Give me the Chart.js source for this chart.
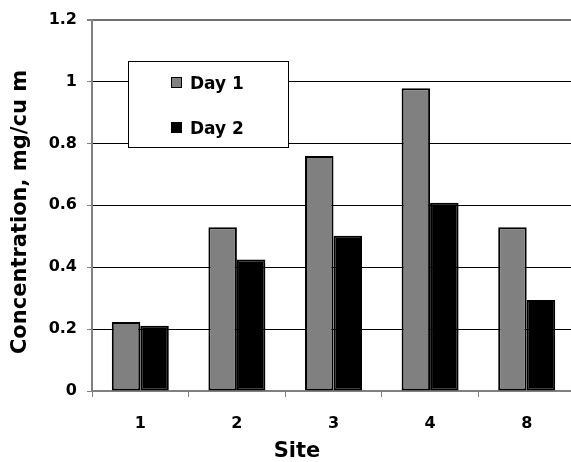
<!DOCTYPE html>
<html>
<head>
<meta charset="utf-8">
<script src="https://cdn.jsdelivr.net/npm/chart.js@4/dist/chart.umd.min.js"></script>
<style>
  html, body { margin: 0; padding: 0; background: #fff; overflow: hidden; }
</style>
</head>
<body>
<canvas id="graphique-sites" width="575" height="462"></canvas>
<script>
// Donnees
const sites = ["1", "2", "3", "4", "8"];
const day1 = [0.223, 0.529, 0.759, 0.978, 0.529];
const day2 = [0.211, 0.425, 0.502, 0.608, 0.294];
const seriesLabels = ["Day 1", "Day 2"];
const yTicks = [0, 0.2, 0.4, 0.6, 0.8, 1, 1.2];
const yTickLabels = ["0", "0.2", "0.4", "0.6", "0.8", "1", "1.2"];
const xTitle = "Site";
const yTitle = "Concentration, mg/cu m";

const police = "'DejaVu Sans', sans-serif";

// Legende dans le cadre blanc, en haut a gauche du graphique
const legendeBoite = {
  id: "legendeBoite",
  afterDatasetsDraw(chart) {
    const ctx = chart.ctx;
    ctx.save();
    ctx.fillStyle = "#fff";
    ctx.fillRect(128, 61, 160, 86);
    ctx.strokeStyle = "#000";
    ctx.lineWidth = 1;
    ctx.strokeRect(128.5, 61.5, 160, 86);
    chart.data.datasets.forEach((ds, i) => {
      const y = 83 + i * 45;
      ctx.fillStyle = ds.backgroundColor;
      ctx.fillRect(171, y - 6, 11, 11);
      ctx.strokeRect(171.5, y - 5.5, 10, 10);
      ctx.fillStyle = "#000";
      ctx.font = "bold 17px " + police;
      ctx.textBaseline = "alphabetic";
      ctx.textAlign = "left";
      ctx.fillText(ds.label, 190, y + 6);
    });
    ctx.restore();
  }
};

// Titres des axes
const titresAxes = {
  id: "titresAxes",
  afterDraw(chart) {
    const ctx = chart.ctx;
    ctx.save();
    ctx.fillStyle = "#000";
    ctx.textAlign = "center";
    ctx.textBaseline = "alphabetic";
    ctx.font = "bold 21px " + police;
    ctx.fillText(xTitle, 297, 457);
    ctx.translate(26, 212);
    ctx.rotate(-Math.PI / 2);
    ctx.fillText(yTitle, 0, 0);
    ctx.restore();
  }
};

const data = {
  labels: sites,
  datasets: [{
    label: seriesLabels[0],
    data: day1,
    backgroundColor: "#808080",
    borderColor: "#000",
    borderWidth: 2,
    borderSkipped: false,
  }, {
    label: seriesLabels[1],
    data: day2,
    backgroundColor: "#000",
    borderColor: "#000",
    borderWidth: 2,
    borderSkipped: false,
  }],
};

const config = {
  type: "bar",
  data: data,
  options: {
    responsive: false,
    animation: false,
    events: [],
    categoryPercentage: 0.59,
    barPercentage: 1,
    layout: { padding: { top: 19, right: 0, left: 0, bottom: 0 } },
    plugins: {
      legend: { display: false },
      tooltip: { enabled: false },
    },
    scales: {
      x: {
        grid: { drawOnChartArea: false, drawTicks: true, tickLength: 6, tickColor: "#808080", offset: true },
        border: { color: "#808080", width: 2 },
        ticks: { color: "#000", font: { family: police, size: 16, weight: "bold" }, padding: 17 },
        afterFit(scale) { scale.height = 71; },
      },
      y: {
        min: 0,
        max: 1.2,
        afterBuildTicks(scale) { scale.ticks = yTicks.map(v => ({ value: v })); },
        ticks: {
          color: "#000",
          font: { family: police, size: 16, weight: "bold" },
          padding: 10,
          callback: (v, i) => yTickLabels[i],
        },
        grid: {
          color: c => (c.tick && c.tick.value === 1.2 ? "#707070" : "#000"),
          lineWidth: c => (c.tick && c.tick.value === 1.2 ? 2 : 1),
          tickColor: "#808080",
          tickLength: 5,
        },
        border: { color: "#808080", width: 2 },
        afterFit(scale) { scale.width = 92; },
      },
    },
  },
  plugins: [legendeBoite, titresAxes],
};

new Chart(document.querySelector("#graphique-sites"), config);
</script>
</body>
</html>
